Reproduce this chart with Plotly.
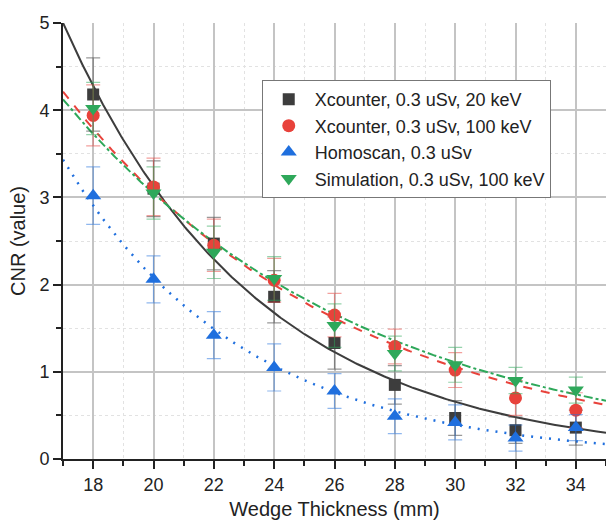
import numpy as np
import plotly.graph_objects as go

thickness = [18, 20, 22, 24, 26, 28, 30, 32, 34]

xc20_cnr = [4.18, 3.10, 2.47, 1.86, 1.33, 0.85, 0.47, 0.33, 0.36]
xc20_err = [0.42, 0.32, 0.30, 0.30, 0.30, 0.22, 0.20, 0.15, 0.20]

xc100_cnr = [3.94, 3.12, 2.45, 2.05, 1.65, 1.29, 1.02, 0.70, 0.56]
xc100_err = [0.35, 0.33, 0.30, 0.25, 0.25, 0.20, 0.20, 0.20, 0.20]

homo_cnr = [3.02, 2.06, 1.42, 1.05, 0.78, 0.49, 0.42, 0.24, 0.36]
homo_err = [0.33, 0.27, 0.27, 0.27, 0.20, 0.20, 0.20, 0.15, 0.15]

sim_cnr = [4.02, 3.05, 2.37, 2.07, 1.53, 1.21, 1.08, 0.90, 0.79]
sim_err = [0.30, 0.30, 0.30, 0.25, 0.25, 0.20, 0.20, 0.15, 0.15]

names = ["Xcounter, 0.3 uSv, 20 keV", "Xcounter, 0.3 uSv, 100 keV",
         "Homoscan, 0.3 uSv", "Simulation, 0.3 uSv, 100 keV"]

# exponential-decay fit parameters (y = A * exp(-b * x))
fit_A = [71.3, 25.8, 58.6, 23.0]
fit_b = [0.1563, 0.1066, 0.1669, 0.1011]

xs = np.linspace(17, 35, 300)
fig = go.Figure()

series = [
    (xc20_cnr, xc20_err, "#3d3d3d", "rgba(70,70,70,0.55)", "square", 12, "solid", 2),
    (xc100_cnr, xc100_err, "#e8423b", "rgba(232,66,59,0.5)", "circle", 13, "dash", 2),
    (homo_cnr, homo_err, "#1f6fde", "rgba(31,111,222,0.5)", "triangle-up", 14, "2px,7px", 2.5),
    (sim_cnr, sim_err, "#2ea85a", "rgba(46,168,90,0.5)", "triangle-down", 14, "dashdot", 2),
]

# fit lines
for (y, e, col, ecol, sym, sz, dash, lw), A, b in zip(series, fit_A, fit_b):
    fig.add_trace(go.Scatter(x=xs, y=A * np.exp(-b * xs), mode="lines",
                             line=dict(color=col, width=lw, dash=dash),
                             showlegend=False, hoverinfo="skip"))

for (y, e, col, ecol, sym, sz, dash, lw), nm in zip(series, names):
    fig.add_trace(go.Scatter(x=thickness, y=y, mode="markers", name=nm,
                             marker=dict(symbol=sym, size=sz, color=col),
                             error_y=dict(type="data", array=e, visible=True,
                                          color=ecol, thickness=1.2, width=7)))

font = "Liberation Sans, Arial, sans-serif"
fig.update_layout(
    width=606, height=527,
    margin=dict(l=63, r=0, t=23, b=68),
    paper_bgcolor="white", plot_bgcolor="white",
    font=dict(family=font, color="#222", size=18),
    legend=dict(x=0.366, y=0.869, xanchor="left", yanchor="top",
                bgcolor="white", bordercolor="#777", borderwidth=1,
                font=dict(size=18, family=font, color="#222"),
                tracegroupgap=0, itemwidth=42),
)
fig.update_xaxes(
    range=[17, 35], tickmode="array", tickvals=thickness,
    showline=True, linecolor="#222", linewidth=2,
    ticks="outside", ticklen=8, tickwidth=2, tickcolor="#222",
    showgrid=True, gridcolor="#c4c4c4", gridwidth=1.5,
    minor=dict(tickvals=[17, 19, 21, 23, 25, 27, 29, 31, 33, 35], ticks="outside",
               ticklen=5, tickwidth=2, tickcolor="#222",
               showgrid=True, gridcolor="#e2e2e2", griddash="dot", gridwidth=1),
    zeroline=False, tickfont=dict(size=18),
    title=dict(text="Wedge Thickness (mm)", font=dict(size=20), standoff=8),
)
fig.update_yaxes(
    range=[0, 5], tickvals=[0, 1, 2, 3, 4, 5],
    showline=True, linecolor="#222", linewidth=2,
    ticks="outside", ticklen=8, tickwidth=2, tickcolor="#222",
    showgrid=True, gridcolor="#c4c4c4", gridwidth=1.5,
    minor=dict(tickvals=[0.5, 1.5, 2.5, 3.5, 4.5], ticks="outside",
               ticklen=5, tickwidth=2, tickcolor="#222",
               showgrid=True, gridcolor="#e2e2e2", griddash="dot", gridwidth=1),
    zeroline=False, tickfont=dict(size=18),
    title=dict(text="CNR (value)", font=dict(size=20), standoff=8),
)

fig.write_html("out.html")
